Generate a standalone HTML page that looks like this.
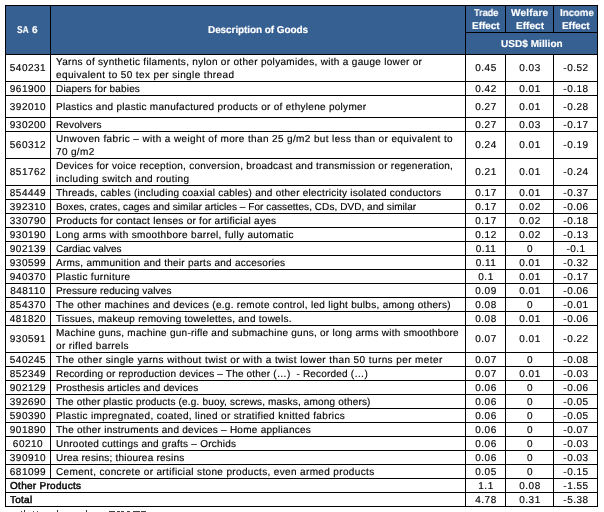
<!DOCTYPE html>
<html><head><meta charset="utf-8"><style>
html,body{margin:0;padding:0;background:#fff;width:604px;height:512px;overflow:hidden;position:relative}
div{position:absolute}
.t{font-family:"Liberation Sans",sans-serif;white-space:pre;will-change:transform;text-rendering:geometricPrecision;-webkit-text-stroke:0.15px currentColor}
</style></head><body>
<div style="left:5px;top:5px;width:593px;height:50px;background:#366092"></div>
<div style="left:5px;top:5px;width:593px;height:1px;background:#000"></div>
<div style="left:5px;top:54px;width:593px;height:1px;background:#000"></div>
<div style="left:5px;top:81px;width:593px;height:1px;background:#000"></div>
<div style="left:5px;top:95px;width:593px;height:1px;background:#000"></div>
<div style="left:5px;top:117px;width:593px;height:1px;background:#000"></div>
<div style="left:5px;top:131px;width:593px;height:1px;background:#000"></div>
<div style="left:5px;top:158px;width:593px;height:1px;background:#000"></div>
<div style="left:5px;top:185px;width:593px;height:1px;background:#000"></div>
<div style="left:5px;top:199px;width:593px;height:1px;background:#000"></div>
<div style="left:5px;top:213px;width:593px;height:1px;background:#000"></div>
<div style="left:5px;top:227px;width:593px;height:1px;background:#000"></div>
<div style="left:5px;top:241px;width:593px;height:1px;background:#000"></div>
<div style="left:5px;top:255px;width:593px;height:1px;background:#000"></div>
<div style="left:5px;top:269px;width:593px;height:1px;background:#000"></div>
<div style="left:5px;top:283px;width:593px;height:1px;background:#000"></div>
<div style="left:5px;top:297px;width:593px;height:1px;background:#000"></div>
<div style="left:5px;top:311px;width:593px;height:1px;background:#000"></div>
<div style="left:5px;top:325px;width:593px;height:1px;background:#000"></div>
<div style="left:5px;top:352px;width:593px;height:1px;background:#000"></div>
<div style="left:5px;top:366px;width:593px;height:1px;background:#000"></div>
<div style="left:5px;top:380px;width:593px;height:1px;background:#000"></div>
<div style="left:5px;top:394px;width:593px;height:1px;background:#000"></div>
<div style="left:5px;top:408px;width:593px;height:1px;background:#000"></div>
<div style="left:5px;top:422px;width:593px;height:1px;background:#000"></div>
<div style="left:5px;top:436px;width:593px;height:1px;background:#000"></div>
<div style="left:5px;top:450px;width:593px;height:1px;background:#000"></div>
<div style="left:5px;top:464px;width:593px;height:1px;background:#000"></div>
<div style="left:5px;top:478px;width:593px;height:1px;background:#000"></div>
<div style="left:5px;top:492px;width:593px;height:1px;background:#000"></div>
<div style="left:5px;top:506px;width:593px;height:1px;background:#000"></div>
<div style="left:465px;top:32px;width:133px;height:1px;background:#000"></div>
<div style="left:5px;top:5px;width:1px;height:502px;background:#000"></div>
<div style="left:597px;top:5px;width:1px;height:502px;background:#000"></div>
<div style="left:465px;top:5px;width:1px;height:502px;background:#000"></div>
<div style="left:50px;top:5px;width:1px;height:474px;background:#000"></div>
<div style="left:505px;top:5px;width:1px;height:28px;background:#000"></div>
<div style="left:553px;top:5px;width:1px;height:28px;background:#000"></div>
<div style="left:505px;top:54px;width:1px;height:453px;background:#000"></div>
<div style="left:553px;top:54px;width:1px;height:453px;background:#000"></div>
<div class="t" style="top:25.36px;font-size:10.0px;line-height:11.5px;color:#fff;font-weight:bold;transform:scaleX(0.8286);transform-origin:0 0;left:17.00px;">SA</div>
<div class="t" style="top:25.36px;font-size:10.0px;line-height:11.5px;color:#fff;font-weight:bold;letter-spacing:0.600px;left:31.80px;">6</div>
<div class="t" style="top:25.36px;font-size:10.0px;line-height:11.5px;color:#fff;font-weight:bold;letter-spacing:-0.084px;left:208.00px;">Description of Goods</div>
<div class="t" style="top:7.86px;font-size:10.0px;line-height:11.5px;color:#fff;font-weight:bold;transform:scaleX(0.9148);transform-origin:0 0;left:473.60px;">Trade</div>
<div class="t" style="top:7.86px;font-size:10.0px;line-height:11.5px;color:#fff;font-weight:bold;letter-spacing:0.200px;left:511.20px;">Welfare</div>
<div class="t" style="top:7.86px;font-size:10.0px;line-height:11.5px;color:#fff;font-weight:bold;transform:scaleX(0.9629);transform-origin:0 0;left:559.50px;">Income</div>
<div class="t" style="top:20.86px;font-size:10.0px;line-height:11.5px;color:#fff;font-weight:bold;letter-spacing:-0.040px;left:472.10px;">Effect</div>
<div class="t" style="top:20.86px;font-size:10.0px;line-height:11.5px;color:#fff;font-weight:bold;letter-spacing:0.040px;left:515.80px;">Effect</div>
<div class="t" style="top:20.86px;font-size:10.0px;line-height:11.5px;color:#fff;font-weight:bold;letter-spacing:-0.060px;left:562.20px;">Effect</div>
<div class="t" style="top:38.86px;font-size:10.0px;line-height:11.5px;color:#fff;font-weight:bold;letter-spacing:0.055px;left:501.00px;">USD$ Million</div>
<div class="t" style="top:63.36px;font-size:10.0px;line-height:11.5px;color:#000;letter-spacing:0.500px;left:-271.75px;width:600px;text-align:center;">540231</div>
<div class="t" style="top:56.86px;font-size:10.0px;line-height:11.5px;color:#000;letter-spacing:0.308px;left:56.00px;">Yarns of synthetic filaments, nylon or other polyamides, with a gauge lower or</div>
<div class="t" style="top:69.86px;font-size:10.0px;line-height:11.5px;color:#000;letter-spacing:0.378px;left:56.00px;">equivalent to 50 tex per single thread</div>
<div class="t" style="top:63.36px;font-size:10.0px;line-height:11.5px;color:#000;letter-spacing:0.500px;left:185.75px;width:600px;text-align:center;">0.45</div>
<div class="t" style="top:63.36px;font-size:10.0px;line-height:11.5px;color:#000;letter-spacing:0.500px;left:229.75px;width:600px;text-align:center;">0.03</div>
<div class="t" style="top:63.36px;font-size:10.0px;line-height:11.5px;color:#000;letter-spacing:0.500px;left:275.75px;width:600px;text-align:center;">-0.52</div>
<div class="t" style="top:83.86px;font-size:10.0px;line-height:11.5px;color:#000;letter-spacing:0.500px;left:-271.75px;width:600px;text-align:center;">961900</div>
<div class="t" style="top:83.86px;font-size:10.0px;line-height:11.5px;color:#000;letter-spacing:0.159px;left:56.00px;">Diapers for babies</div>
<div class="t" style="top:83.86px;font-size:10.0px;line-height:11.5px;color:#000;letter-spacing:0.500px;left:185.75px;width:600px;text-align:center;">0.42</div>
<div class="t" style="top:83.86px;font-size:10.0px;line-height:11.5px;color:#000;letter-spacing:0.500px;left:229.75px;width:600px;text-align:center;">0.01</div>
<div class="t" style="top:83.86px;font-size:10.0px;line-height:11.5px;color:#000;letter-spacing:0.500px;left:275.75px;width:600px;text-align:center;">-0.18</div>
<div class="t" style="top:101.86px;font-size:10.0px;line-height:11.5px;color:#000;letter-spacing:0.500px;left:-271.75px;width:600px;text-align:center;">392010</div>
<div class="t" style="top:101.86px;font-size:10.0px;line-height:11.5px;color:#000;letter-spacing:0.287px;left:56.00px;">Plastics and plastic manufactured products or of ethylene polymer</div>
<div class="t" style="top:101.86px;font-size:10.0px;line-height:11.5px;color:#000;letter-spacing:0.500px;left:185.75px;width:600px;text-align:center;">0.27</div>
<div class="t" style="top:101.86px;font-size:10.0px;line-height:11.5px;color:#000;letter-spacing:0.500px;left:229.75px;width:600px;text-align:center;">0.01</div>
<div class="t" style="top:101.86px;font-size:10.0px;line-height:11.5px;color:#000;letter-spacing:0.500px;left:275.75px;width:600px;text-align:center;">-0.28</div>
<div class="t" style="top:119.87px;font-size:10.0px;line-height:11.5px;color:#000;letter-spacing:0.500px;left:-271.75px;width:600px;text-align:center;">930200</div>
<div class="t" style="top:119.87px;font-size:10.0px;line-height:11.5px;color:#000;letter-spacing:0.125px;left:56.00px;">Revolvers</div>
<div class="t" style="top:119.87px;font-size:10.0px;line-height:11.5px;color:#000;letter-spacing:0.500px;left:185.75px;width:600px;text-align:center;">0.27</div>
<div class="t" style="top:119.87px;font-size:10.0px;line-height:11.5px;color:#000;letter-spacing:0.500px;left:229.75px;width:600px;text-align:center;">0.03</div>
<div class="t" style="top:119.87px;font-size:10.0px;line-height:11.5px;color:#000;letter-spacing:0.500px;left:275.75px;width:600px;text-align:center;">-0.17</div>
<div class="t" style="top:140.37px;font-size:10.0px;line-height:11.5px;color:#000;letter-spacing:0.500px;left:-271.75px;width:600px;text-align:center;">560312</div>
<div class="t" style="top:133.87px;font-size:10.0px;line-height:11.5px;color:#000;letter-spacing:0.374px;left:56.00px;">Unwoven fabric – with a weight of more than 25 g/m2 but less than or equivalent to</div>
<div class="t" style="top:146.87px;font-size:10.0px;line-height:11.5px;color:#000;letter-spacing:0.350px;left:56.00px;">70 g/m2</div>
<div class="t" style="top:140.37px;font-size:10.0px;line-height:11.5px;color:#000;letter-spacing:0.500px;left:185.75px;width:600px;text-align:center;">0.24</div>
<div class="t" style="top:140.37px;font-size:10.0px;line-height:11.5px;color:#000;letter-spacing:0.500px;left:229.75px;width:600px;text-align:center;">0.01</div>
<div class="t" style="top:140.37px;font-size:10.0px;line-height:11.5px;color:#000;letter-spacing:0.500px;left:275.75px;width:600px;text-align:center;">-0.19</div>
<div class="t" style="top:167.37px;font-size:10.0px;line-height:11.5px;color:#000;letter-spacing:0.500px;left:-271.75px;width:600px;text-align:center;">851762</div>
<div class="t" style="top:160.87px;font-size:10.0px;line-height:11.5px;color:#000;letter-spacing:0.261px;left:56.00px;">Devices for voice reception, conversion, broadcast and transmission or regeneration,</div>
<div class="t" style="top:173.87px;font-size:10.0px;line-height:11.5px;color:#000;letter-spacing:0.378px;left:56.00px;">including switch and routing</div>
<div class="t" style="top:167.37px;font-size:10.0px;line-height:11.5px;color:#000;letter-spacing:0.500px;left:185.75px;width:600px;text-align:center;">0.21</div>
<div class="t" style="top:167.37px;font-size:10.0px;line-height:11.5px;color:#000;letter-spacing:0.500px;left:229.75px;width:600px;text-align:center;">0.01</div>
<div class="t" style="top:167.37px;font-size:10.0px;line-height:11.5px;color:#000;letter-spacing:0.500px;left:275.75px;width:600px;text-align:center;">-0.24</div>
<div class="t" style="top:187.87px;font-size:10.0px;line-height:11.5px;color:#000;letter-spacing:0.500px;left:-271.75px;width:600px;text-align:center;">854449</div>
<div class="t" style="top:187.87px;font-size:10.0px;line-height:11.5px;color:#000;letter-spacing:0.251px;left:56.00px;">Threads, cables (including coaxial cables) and other electricity isolated conductors</div>
<div class="t" style="top:187.87px;font-size:10.0px;line-height:11.5px;color:#000;letter-spacing:0.500px;left:185.75px;width:600px;text-align:center;">0.17</div>
<div class="t" style="top:187.87px;font-size:10.0px;line-height:11.5px;color:#000;letter-spacing:0.500px;left:229.75px;width:600px;text-align:center;">0.01</div>
<div class="t" style="top:187.87px;font-size:10.0px;line-height:11.5px;color:#000;letter-spacing:0.500px;left:275.75px;width:600px;text-align:center;">-0.37</div>
<div class="t" style="top:201.87px;font-size:10.0px;line-height:11.5px;color:#000;letter-spacing:0.500px;left:-271.75px;width:600px;text-align:center;">392310</div>
<div class="t" style="top:201.87px;font-size:10.0px;line-height:11.5px;color:#000;letter-spacing:0.063px;left:56.00px;">Boxes, crates, cages and similar articles – For cassettes, CDs, DVD, and similar</div>
<div class="t" style="top:201.87px;font-size:10.0px;line-height:11.5px;color:#000;letter-spacing:0.500px;left:185.75px;width:600px;text-align:center;">0.17</div>
<div class="t" style="top:201.87px;font-size:10.0px;line-height:11.5px;color:#000;letter-spacing:0.500px;left:229.75px;width:600px;text-align:center;">0.02</div>
<div class="t" style="top:201.87px;font-size:10.0px;line-height:11.5px;color:#000;letter-spacing:0.500px;left:275.75px;width:600px;text-align:center;">-0.06</div>
<div class="t" style="top:215.87px;font-size:10.0px;line-height:11.5px;color:#000;letter-spacing:0.500px;left:-271.75px;width:600px;text-align:center;">330790</div>
<div class="t" style="top:215.87px;font-size:10.0px;line-height:11.5px;color:#000;letter-spacing:0.259px;left:56.00px;">Products for contact lenses or for artificial ayes</div>
<div class="t" style="top:215.87px;font-size:10.0px;line-height:11.5px;color:#000;letter-spacing:0.500px;left:185.75px;width:600px;text-align:center;">0.17</div>
<div class="t" style="top:215.87px;font-size:10.0px;line-height:11.5px;color:#000;letter-spacing:0.500px;left:229.75px;width:600px;text-align:center;">0.02</div>
<div class="t" style="top:215.87px;font-size:10.0px;line-height:11.5px;color:#000;letter-spacing:0.500px;left:275.75px;width:600px;text-align:center;">-0.18</div>
<div class="t" style="top:229.87px;font-size:10.0px;line-height:11.5px;color:#000;letter-spacing:0.500px;left:-271.75px;width:600px;text-align:center;">930190</div>
<div class="t" style="top:229.87px;font-size:10.0px;line-height:11.5px;color:#000;letter-spacing:0.340px;left:56.00px;">Long arms with smoothbore barrel, fully automatic</div>
<div class="t" style="top:229.87px;font-size:10.0px;line-height:11.5px;color:#000;letter-spacing:0.500px;left:185.75px;width:600px;text-align:center;">0.12</div>
<div class="t" style="top:229.87px;font-size:10.0px;line-height:11.5px;color:#000;letter-spacing:0.500px;left:229.75px;width:600px;text-align:center;">0.02</div>
<div class="t" style="top:229.87px;font-size:10.0px;line-height:11.5px;color:#000;letter-spacing:0.500px;left:275.75px;width:600px;text-align:center;">-0.13</div>
<div class="t" style="top:243.87px;font-size:10.0px;line-height:11.5px;color:#000;letter-spacing:0.500px;left:-271.75px;width:600px;text-align:center;">902139</div>
<div class="t" style="top:243.87px;font-size:10.0px;line-height:11.5px;color:#000;letter-spacing:-0.008px;left:56.00px;">Cardiac valves</div>
<div class="t" style="top:243.87px;font-size:10.0px;line-height:11.5px;color:#000;letter-spacing:0.500px;left:185.75px;width:600px;text-align:center;">0.11</div>
<div class="t" style="top:243.87px;font-size:10.0px;line-height:11.5px;color:#000;letter-spacing:0.500px;left:229.75px;width:600px;text-align:center;">0</div>
<div class="t" style="top:243.87px;font-size:10.0px;line-height:11.5px;color:#000;letter-spacing:0.500px;left:275.75px;width:600px;text-align:center;">-0.1</div>
<div class="t" style="top:257.87px;font-size:10.0px;line-height:11.5px;color:#000;letter-spacing:0.500px;left:-271.75px;width:600px;text-align:center;">930599</div>
<div class="t" style="top:257.87px;font-size:10.0px;line-height:11.5px;color:#000;letter-spacing:0.254px;left:56.00px;">Arms, ammunition and their parts and accesories</div>
<div class="t" style="top:257.87px;font-size:10.0px;line-height:11.5px;color:#000;letter-spacing:0.500px;left:185.75px;width:600px;text-align:center;">0.11</div>
<div class="t" style="top:257.87px;font-size:10.0px;line-height:11.5px;color:#000;letter-spacing:0.500px;left:229.75px;width:600px;text-align:center;">0.01</div>
<div class="t" style="top:257.87px;font-size:10.0px;line-height:11.5px;color:#000;letter-spacing:0.500px;left:275.75px;width:600px;text-align:center;">-0.32</div>
<div class="t" style="top:271.87px;font-size:10.0px;line-height:11.5px;color:#000;letter-spacing:0.500px;left:-271.75px;width:600px;text-align:center;">940370</div>
<div class="t" style="top:271.87px;font-size:10.0px;line-height:11.5px;color:#000;letter-spacing:0.325px;left:56.00px;">Plastic furniture</div>
<div class="t" style="top:271.87px;font-size:10.0px;line-height:11.5px;color:#000;letter-spacing:0.500px;left:185.75px;width:600px;text-align:center;">0.1</div>
<div class="t" style="top:271.87px;font-size:10.0px;line-height:11.5px;color:#000;letter-spacing:0.500px;left:229.75px;width:600px;text-align:center;">0.01</div>
<div class="t" style="top:271.87px;font-size:10.0px;line-height:11.5px;color:#000;letter-spacing:0.500px;left:275.75px;width:600px;text-align:center;">-0.17</div>
<div class="t" style="top:285.87px;font-size:10.0px;line-height:11.5px;color:#000;letter-spacing:0.500px;left:-271.75px;width:600px;text-align:center;">848110</div>
<div class="t" style="top:285.87px;font-size:10.0px;line-height:11.5px;color:#000;letter-spacing:0.135px;left:56.00px;">Pressure reducing valves</div>
<div class="t" style="top:285.87px;font-size:10.0px;line-height:11.5px;color:#000;letter-spacing:0.500px;left:185.75px;width:600px;text-align:center;">0.09</div>
<div class="t" style="top:285.87px;font-size:10.0px;line-height:11.5px;color:#000;letter-spacing:0.500px;left:229.75px;width:600px;text-align:center;">0.01</div>
<div class="t" style="top:285.87px;font-size:10.0px;line-height:11.5px;color:#000;letter-spacing:0.500px;left:275.75px;width:600px;text-align:center;">-0.06</div>
<div class="t" style="top:299.87px;font-size:10.0px;line-height:11.5px;color:#000;letter-spacing:0.500px;left:-271.75px;width:600px;text-align:center;">854370</div>
<div class="t" style="top:299.87px;font-size:10.0px;line-height:11.5px;color:#000;letter-spacing:0.291px;left:56.00px;">The other machines and devices (e.g. remote control, led light bulbs, among others)</div>
<div class="t" style="top:299.87px;font-size:10.0px;line-height:11.5px;color:#000;letter-spacing:0.500px;left:185.75px;width:600px;text-align:center;">0.08</div>
<div class="t" style="top:299.87px;font-size:10.0px;line-height:11.5px;color:#000;letter-spacing:0.500px;left:229.75px;width:600px;text-align:center;">0</div>
<div class="t" style="top:299.87px;font-size:10.0px;line-height:11.5px;color:#000;letter-spacing:0.500px;left:275.75px;width:600px;text-align:center;">-0.01</div>
<div class="t" style="top:313.87px;font-size:10.0px;line-height:11.5px;color:#000;letter-spacing:0.500px;left:-271.75px;width:600px;text-align:center;">481820</div>
<div class="t" style="top:313.87px;font-size:10.0px;line-height:11.5px;color:#000;letter-spacing:0.264px;left:56.00px;">Tissues, makeup removing towelettes, and towels.</div>
<div class="t" style="top:313.87px;font-size:10.0px;line-height:11.5px;color:#000;letter-spacing:0.500px;left:185.75px;width:600px;text-align:center;">0.08</div>
<div class="t" style="top:313.87px;font-size:10.0px;line-height:11.5px;color:#000;letter-spacing:0.500px;left:229.75px;width:600px;text-align:center;">0.01</div>
<div class="t" style="top:313.87px;font-size:10.0px;line-height:11.5px;color:#000;letter-spacing:0.500px;left:275.75px;width:600px;text-align:center;">-0.06</div>
<div class="t" style="top:334.37px;font-size:10.0px;line-height:11.5px;color:#000;letter-spacing:0.500px;left:-271.75px;width:600px;text-align:center;">930591</div>
<div class="t" style="top:327.87px;font-size:10.0px;line-height:11.5px;color:#000;letter-spacing:0.252px;left:56.00px;">Machine guns, machine gun-rifle and submachine guns, or long arms with smoothbore</div>
<div class="t" style="top:340.87px;font-size:10.0px;line-height:11.5px;color:#000;letter-spacing:0.369px;left:56.00px;">or rifled barrels</div>
<div class="t" style="top:334.37px;font-size:10.0px;line-height:11.5px;color:#000;letter-spacing:0.500px;left:185.75px;width:600px;text-align:center;">0.07</div>
<div class="t" style="top:334.37px;font-size:10.0px;line-height:11.5px;color:#000;letter-spacing:0.500px;left:229.75px;width:600px;text-align:center;">0.01</div>
<div class="t" style="top:334.37px;font-size:10.0px;line-height:11.5px;color:#000;letter-spacing:0.500px;left:275.75px;width:600px;text-align:center;">-0.22</div>
<div class="t" style="top:354.87px;font-size:10.0px;line-height:11.5px;color:#000;letter-spacing:0.500px;left:-271.75px;width:600px;text-align:center;">540245</div>
<div class="t" style="top:354.87px;font-size:10.0px;line-height:11.5px;color:#000;letter-spacing:0.412px;left:56.00px;">The other single yarns without twist or with a twist lower than 50 turns per meter</div>
<div class="t" style="top:354.87px;font-size:10.0px;line-height:11.5px;color:#000;letter-spacing:0.500px;left:185.75px;width:600px;text-align:center;">0.07</div>
<div class="t" style="top:354.87px;font-size:10.0px;line-height:11.5px;color:#000;letter-spacing:0.500px;left:229.75px;width:600px;text-align:center;">0</div>
<div class="t" style="top:354.87px;font-size:10.0px;line-height:11.5px;color:#000;letter-spacing:0.500px;left:275.75px;width:600px;text-align:center;">-0.08</div>
<div class="t" style="top:368.87px;font-size:10.0px;line-height:11.5px;color:#000;letter-spacing:0.500px;left:-271.75px;width:600px;text-align:center;">852349</div>
<div class="t" style="top:368.87px;font-size:10.0px;line-height:11.5px;color:#000;letter-spacing:0.184px;left:56.00px;">Recording or reproduction devices – The other (…)  - Recorded (…)</div>
<div class="t" style="top:368.87px;font-size:10.0px;line-height:11.5px;color:#000;letter-spacing:0.500px;left:185.75px;width:600px;text-align:center;">0.07</div>
<div class="t" style="top:368.87px;font-size:10.0px;line-height:11.5px;color:#000;letter-spacing:0.500px;left:229.75px;width:600px;text-align:center;">0.01</div>
<div class="t" style="top:368.87px;font-size:10.0px;line-height:11.5px;color:#000;letter-spacing:0.500px;left:275.75px;width:600px;text-align:center;">-0.03</div>
<div class="t" style="top:382.87px;font-size:10.0px;line-height:11.5px;color:#000;letter-spacing:0.500px;left:-271.75px;width:600px;text-align:center;">902129</div>
<div class="t" style="top:382.87px;font-size:10.0px;line-height:11.5px;color:#000;letter-spacing:0.167px;left:56.00px;">Prosthesis articles and devices</div>
<div class="t" style="top:382.87px;font-size:10.0px;line-height:11.5px;color:#000;letter-spacing:0.500px;left:185.75px;width:600px;text-align:center;">0.06</div>
<div class="t" style="top:382.87px;font-size:10.0px;line-height:11.5px;color:#000;letter-spacing:0.500px;left:229.75px;width:600px;text-align:center;">0</div>
<div class="t" style="top:382.87px;font-size:10.0px;line-height:11.5px;color:#000;letter-spacing:0.500px;left:275.75px;width:600px;text-align:center;">-0.06</div>
<div class="t" style="top:396.87px;font-size:10.0px;line-height:11.5px;color:#000;letter-spacing:0.500px;left:-271.75px;width:600px;text-align:center;">392690</div>
<div class="t" style="top:396.87px;font-size:10.0px;line-height:11.5px;color:#000;letter-spacing:0.177px;left:56.00px;">The other plastic products (e.g. buoy, screws, masks, among others)</div>
<div class="t" style="top:396.87px;font-size:10.0px;line-height:11.5px;color:#000;letter-spacing:0.500px;left:185.75px;width:600px;text-align:center;">0.06</div>
<div class="t" style="top:396.87px;font-size:10.0px;line-height:11.5px;color:#000;letter-spacing:0.500px;left:229.75px;width:600px;text-align:center;">0</div>
<div class="t" style="top:396.87px;font-size:10.0px;line-height:11.5px;color:#000;letter-spacing:0.500px;left:275.75px;width:600px;text-align:center;">-0.05</div>
<div class="t" style="top:410.87px;font-size:10.0px;line-height:11.5px;color:#000;letter-spacing:0.500px;left:-271.75px;width:600px;text-align:center;">590390</div>
<div class="t" style="top:410.87px;font-size:10.0px;line-height:11.5px;color:#000;letter-spacing:0.348px;left:56.00px;">Plastic impregnated, coated, lined or stratified knitted fabrics</div>
<div class="t" style="top:410.87px;font-size:10.0px;line-height:11.5px;color:#000;letter-spacing:0.500px;left:185.75px;width:600px;text-align:center;">0.06</div>
<div class="t" style="top:410.87px;font-size:10.0px;line-height:11.5px;color:#000;letter-spacing:0.500px;left:229.75px;width:600px;text-align:center;">0</div>
<div class="t" style="top:410.87px;font-size:10.0px;line-height:11.5px;color:#000;letter-spacing:0.500px;left:275.75px;width:600px;text-align:center;">-0.05</div>
<div class="t" style="top:424.87px;font-size:10.0px;line-height:11.5px;color:#000;letter-spacing:0.500px;left:-271.75px;width:600px;text-align:center;">901890</div>
<div class="t" style="top:424.87px;font-size:10.0px;line-height:11.5px;color:#000;letter-spacing:0.260px;left:56.00px;">The other instruments and devices – Home appliances</div>
<div class="t" style="top:424.87px;font-size:10.0px;line-height:11.5px;color:#000;letter-spacing:0.500px;left:185.75px;width:600px;text-align:center;">0.06</div>
<div class="t" style="top:424.87px;font-size:10.0px;line-height:11.5px;color:#000;letter-spacing:0.500px;left:229.75px;width:600px;text-align:center;">0</div>
<div class="t" style="top:424.87px;font-size:10.0px;line-height:11.5px;color:#000;letter-spacing:0.500px;left:275.75px;width:600px;text-align:center;">-0.07</div>
<div class="t" style="top:438.87px;font-size:10.0px;line-height:11.5px;color:#000;letter-spacing:0.500px;left:-271.75px;width:600px;text-align:center;">60210</div>
<div class="t" style="top:438.87px;font-size:10.0px;line-height:11.5px;color:#000;letter-spacing:0.238px;left:56.00px;">Unrooted cuttings and grafts – Orchids</div>
<div class="t" style="top:438.87px;font-size:10.0px;line-height:11.5px;color:#000;letter-spacing:0.500px;left:185.75px;width:600px;text-align:center;">0.06</div>
<div class="t" style="top:438.87px;font-size:10.0px;line-height:11.5px;color:#000;letter-spacing:0.500px;left:229.75px;width:600px;text-align:center;">0</div>
<div class="t" style="top:438.87px;font-size:10.0px;line-height:11.5px;color:#000;letter-spacing:0.500px;left:275.75px;width:600px;text-align:center;">-0.03</div>
<div class="t" style="top:452.87px;font-size:10.0px;line-height:11.5px;color:#000;letter-spacing:0.500px;left:-271.75px;width:600px;text-align:center;">390910</div>
<div class="t" style="top:452.87px;font-size:10.0px;line-height:11.5px;color:#000;letter-spacing:0.219px;left:56.00px;">Urea resins; thiourea resins</div>
<div class="t" style="top:452.87px;font-size:10.0px;line-height:11.5px;color:#000;letter-spacing:0.500px;left:185.75px;width:600px;text-align:center;">0.06</div>
<div class="t" style="top:452.87px;font-size:10.0px;line-height:11.5px;color:#000;letter-spacing:0.500px;left:229.75px;width:600px;text-align:center;">0</div>
<div class="t" style="top:452.87px;font-size:10.0px;line-height:11.5px;color:#000;letter-spacing:0.500px;left:275.75px;width:600px;text-align:center;">-0.03</div>
<div class="t" style="top:466.87px;font-size:10.0px;line-height:11.5px;color:#000;letter-spacing:0.500px;left:-271.75px;width:600px;text-align:center;">681099</div>
<div class="t" style="top:466.87px;font-size:10.0px;line-height:11.5px;color:#000;letter-spacing:0.354px;left:56.00px;">Cement, concrete or artificial stone products, even armed products</div>
<div class="t" style="top:466.87px;font-size:10.0px;line-height:11.5px;color:#000;letter-spacing:0.500px;left:185.75px;width:600px;text-align:center;">0.05</div>
<div class="t" style="top:466.87px;font-size:10.0px;line-height:11.5px;color:#000;letter-spacing:0.500px;left:229.75px;width:600px;text-align:center;">0</div>
<div class="t" style="top:466.87px;font-size:10.0px;line-height:11.5px;color:#000;letter-spacing:0.500px;left:275.75px;width:600px;text-align:center;">-0.15</div>
<div class="t" style="top:480.87px;font-size:10.0px;line-height:11.5px;color:#000;-webkit-text-stroke:0.45px #000;letter-spacing:0.292px;left:10.30px;">Other Products</div>
<div class="t" style="top:480.87px;font-size:10.0px;line-height:11.5px;color:#000;letter-spacing:0.500px;left:185.75px;width:600px;text-align:center;">1.1</div>
<div class="t" style="top:480.87px;font-size:10.0px;line-height:11.5px;color:#000;letter-spacing:0.500px;left:229.75px;width:600px;text-align:center;">0.08</div>
<div class="t" style="top:480.87px;font-size:10.0px;line-height:11.5px;color:#000;letter-spacing:0.500px;left:275.75px;width:600px;text-align:center;">-1.55</div>
<div class="t" style="top:494.87px;font-size:10.0px;line-height:11.5px;color:#000;-webkit-text-stroke:0.45px #000;letter-spacing:0.250px;left:10.30px;">Total</div>
<div class="t" style="top:494.87px;font-size:10.0px;line-height:11.5px;color:#000;letter-spacing:0.500px;left:185.75px;width:600px;text-align:center;">4.78</div>
<div class="t" style="top:494.87px;font-size:10.0px;line-height:11.5px;color:#000;letter-spacing:0.500px;left:229.75px;width:600px;text-align:center;">0.31</div>
<div class="t" style="top:494.87px;font-size:10.0px;line-height:11.5px;color:#000;letter-spacing:0.500px;left:275.75px;width:600px;text-align:center;">-5.38</div>
<div style="left:21px;top:511px;width:1px;height:1px;background:#444"></div>
<div style="left:24px;top:510px;width:1px;height:2px;background:#333"></div>
<div style="left:33px;top:511px;width:1px;height:1px;background:#555"></div>
<div style="left:37px;top:511px;width:1px;height:1px;background:#555"></div>
<div style="left:57px;top:510px;width:1px;height:2px;background:#333"></div>
<div style="left:86px;top:510px;width:1px;height:2px;background:#333"></div>
<div style="left:109px;top:511px;width:6px;height:1px;background:#444"></div>
<div style="left:117px;top:511px;width:3px;height:1px;background:#444"></div>
<div style="left:121px;top:511px;width:3px;height:1px;background:#444"></div>
<div style="left:127px;top:511px;width:3px;height:1px;background:#444"></div>
<div style="left:133px;top:511px;width:7px;height:1px;background:#444"></div>
<div style="left:141px;top:511px;width:5px;height:1px;background:#444"></div>
</body></html>
